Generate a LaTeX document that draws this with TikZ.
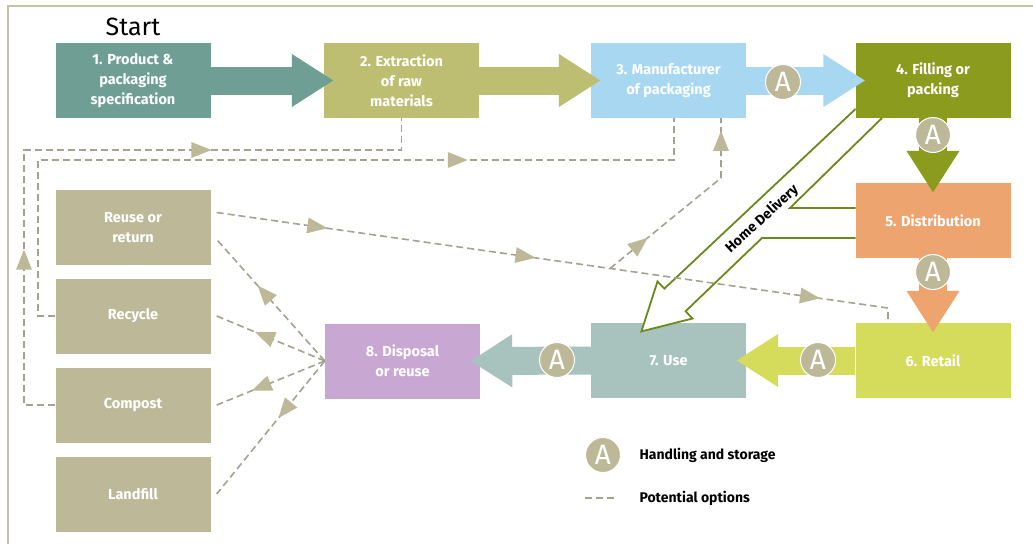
\documentclass[tikz,border=0pt]{standalone}
\usepackage{fontspec}
\setmainfont{Fira Sans}
\usetikzlibrary{arrows.meta,calc}
\definecolor{cA}{HTML}{6F9E95}
\definecolor{cB}{HTML}{BEBE72}
\definecolor{cC}{HTML}{A8D8F1}
\definecolor{cD}{HTML}{8B9B1E}
\definecolor{cE}{HTML}{EEA46F}
\definecolor{cF}{HTML}{D5DB5B}
\definecolor{cG}{HTML}{A8C3BD}
\definecolor{cH}{HTML}{C8A8D3}
\definecolor{khk}{HTML}{BDB998}
\definecolor{dsh}{HTML}{A5A290}
\definecolor{hdc}{HTML}{6A891C}
\definecolor{frm}{HTML}{C6C3AA}
\tikzset{
  pics/tri/.style={code={\fill[khk,draw=none,solid] (10pt,0pt) -- (-10pt,-8pt) -- (-10pt,8pt) -- cycle;}},
  box/.style={draw=none,minimum width=155pt,minimum height=75pt,inner sep=0pt,text=white,
    font=\bfseries\fontsize{14.5}{20}\selectfont,align=center},
  bigar/.style={line width=28pt,-{Triangle[length=42pt,width=50pt]},shorten >=-10pt},
  dline/.style={draw=dsh,line width=1.6pt,dash pattern=on 7pt off 4pt},
  ar/.style={pos=#1,sloped,allow upside down},
  acirc/.style={circle,fill=khk,draw=white,line width=1pt,minimum size=35pt,inner sep=0pt,
    text=white,font=\fontsize{28}{28}\selectfont},
  hdline/.style={draw=hdc,line width=1.8pt,line join=miter},
}
\begin{document}
\begin{tikzpicture}[x=1pt,y=-1pt]
\useasboundingbox (0,0) rectangle (1033,544);
\fill[white] (0,0) rectangle (1033,544);
\draw[frm,line width=2pt] (8,544) -- (8,6) -- (1033,6);

% boxes
\node[font=\fontsize{25}{25}\selectfont] (start) at (133,27) {Start};
\node[box,fill=cA] (b1) at (133,80.5) {1. Product \&\\packaging\\specification};
\node[box,fill=cB] (b2) at (401.5,80.5) {2. Extraction\\of raw\\materials};
\node[box,fill=cC] (b3) at (668.5,80.5) {3. Manufacturer\\of packaging};
\node[box,fill=cD] (b4) at (933,80.5) {4. Filling or\\packing};
\node[box,fill=cE] (b5) at (933,220.5) {5. Distribution};
\node[box,fill=cF] (b6) at (933,360.5) {6. Retail};
\node[box,fill=cG] (b7) at (668.5,360.5) {7. Use};
\node[box,fill=cH] (b8) at (402.5,361) {8. Disposal\\or reuse};
\node[box,fill=khk] (reuse) at (133,227.5) {Reuse or\\return};
\node[box,fill=khk] (recycle) at (133,316) {Recycle};
\node[box,fill=khk] (compost) at (133,405) {Compost};
\node[box,fill=khk] (landfill) at (133,494) {Landfill};

% Home delivery hollow arrow (from 4 and 5 to 7)
\coordinate (h0) at (855.5,109);
\coordinate (h1) at (664.4,288.6);
\coordinate (h2) at (657.5,281.5);
\coordinate (ht) at (641.4,331.4);
\coordinate (h3) at (692.5,318.5);
\coordinate (h4) at (685.6,311.2);
\coordinate (h5) at (762,238);
\coordinate (h6) at (855.5,238);
\coordinate (h7) at (855.5,208);
\coordinate (h8) at (790,208);
\coordinate (h9) at (882,118);
\fill[white] (h0) -- (h1) -- (h2) -- (ht) -- (h3) -- (h4) -- (h5) -- (h6) -- cycle;
\draw[hdline] (h0) -- (h1) -- (h2) -- (ht) -- (h3) -- (h4) -- (h5) -- (h6);
\draw[hdline] (h7) -- (h8) -- (h9);
\node[rotate=42.5,font=\bfseries\fontsize{14}{14}\selectfont] (hdl) at (762,219) {Home Delivery};

% dashed options
\coordinate (o1) at (24,150);
\draw[dline] (compost.west) -- (compost.west -| o1) -- pic[ar=0.57]{tri} (o1)
  -- pic[ar=0.47]{tri} (o1 -| b2.south) -- (b2.south);
\coordinate (o2) at (38,160);
\coordinate (m3) at (674,118);
\draw[dline] (recycle.west) -- (recycle.west -| o2) -- (o2) -- pic[ar=0.66]{tri} (o2 -| m3) -- (m3);
\coordinate (rs) at ($(reuse.east)+(6,-15)$);
\coordinate (rr) at (888,308);
\draw[dline] (rs) -- pic[ar=0.15]{tri} pic[ar=0.46]{tri} pic[ar=0.884]{tri} (rr) -- (rr |- b6.north);
\coordinate (br) at ($(rs)!0.586!(rr)$);
\coordinate (bk) at (721,178);
\draw[dline] (br) -- pic[ar=0.27]{tri} (bk) -- pic[ar=0.62]{tri} (bk |- b3.south);
\draw[dline] (b8.west) -- pic[ar=0.56]{tri} ($(reuse.east)+(6,12)$);
\draw[dline] (b8.west) -- pic[ar=0.56]{tri} ($(recycle.east)+(6,0)$);
\draw[dline] (b8.west) -- pic[ar=0.59]{tri} ($(compost.east)+(6,0)$);
\draw[dline] (b8.west) -- pic[ar=0.37]{tri} ($(landfill.east)+(6,0)$);

% main flow arrows
\draw[bigar,cA] (b1.east) -- (b2.west);
\draw[bigar,cB] (b2.east) -- (b3.west);
\draw[bigar,cC] (b3.east) -- (b4.west);
\draw[bigar,cD] (b4.south) -- (b5.north);
\draw[bigar,cE] (b5.south) -- (b6.north);
\draw[bigar,cF] (b6.west) -- (b7.east);
\draw[bigar,cG] (b7.west) -- (b8.east);

% handling circles
\node[acirc] (a1) at (783,82) {A};
\node[acirc] (a2) at (933,135) {A};
\node[acirc] (a3) at (933,272) {A};
\node[acirc] (a4) at (818,360) {A};
\node[acirc] (a5) at (557,360) {A};

% legend
\node[acirc] (la) at (603,455) {A};
\node[anchor=west,font=\bfseries\fontsize{14}{14}\selectfont] (lt1) at (636,455) {Handling and storage};
\coordinate (ld1) at (585,498);
\coordinate (ld2) at (616,498);
\draw[dline] (ld1) -- (ld2);
\node[anchor=west,font=\bfseries\fontsize{14}{14}\selectfont] (lt2) at (636,498) {Potential options};
\end{tikzpicture}
\end{document}
